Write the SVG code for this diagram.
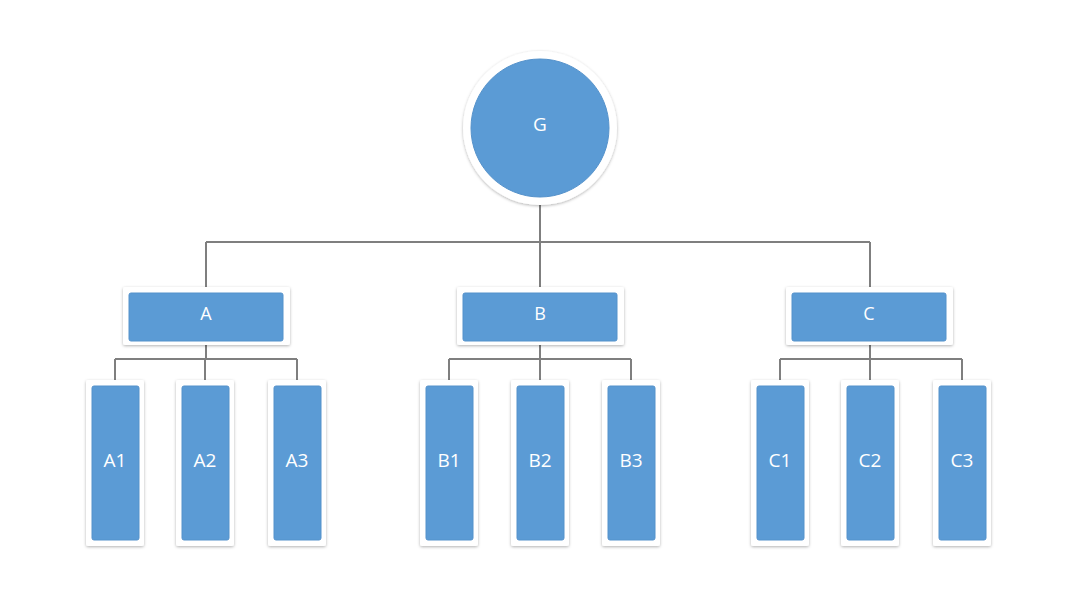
<svg xmlns="http://www.w3.org/2000/svg" width="1080" height="608" viewBox="0 0 1080 608">
<defs>
<filter id="sh" x="-20%" y="-20%" width="140%" height="140%">
<feDropShadow dx="0" dy="1" stdDeviation="1.5" flood-color="#000" flood-opacity="0.3"/>
</filter>
</defs>
<style>
.frame{fill:#fff;filter:url(#sh)}
.fill{fill:#5b9bd5;stroke:#5592cb;stroke-width:1}
.lbl{font-family:"Open Sans","Liberation Sans",sans-serif;fill:#fff;text-anchor:middle;dominant-baseline:central}
.l1{font-size:18px}
.l2{font-size:19px}
.conn{fill:none;stroke:#7f7f7f;stroke-width:2}
</style>
<rect width="1080" height="608" fill="#fff"/>
<g id="connectors" class="conn">
<path d="M540,205 V242 M206,242 H870 M206,242 V287 M540,242 V287 M870,242 V287"/>
<path d="M206,345 V359 M115,359 H297 M115,359 V380 M205,359 V380 M297,359 V380"/>
<path d="M540,345 V359 M449,359 H631 M449,359 V380 M540,359 V380 M631,359 V380"/>
<path d="M870,345 V359 M780,359 H962 M780,359 V380 M870,359 V380 M962,359 V380"/>
</g>
<g id="G">
<circle class="frame" cx="540" cy="128" r="77"/>
<circle class="fill" cx="540" cy="128" r="69"/>
<text class="lbl l2" x="540" y="124">G</text>
</g>
<g id="A">
<rect class="frame" x="123" y="287" width="167" height="58" rx="2"/>
<rect class="fill" x="129" y="293" width="154" height="48" rx="2"/>
<text class="lbl l1" x="206" y="313">A</text>
</g>
<g id="B">
<rect class="frame" x="457" y="287" width="167" height="58" rx="2"/>
<rect class="fill" x="463" y="293" width="154" height="48" rx="2"/>
<text class="lbl l1" x="540" y="313">B</text>
</g>
<g id="C">
<rect class="frame" x="786" y="287" width="167" height="58" rx="2"/>
<rect class="fill" x="792" y="293" width="154" height="48" rx="2"/>
<text class="lbl l1" x="869" y="313">C</text>
</g>
<g id="A1">
<rect class="frame" x="86" y="380" width="58" height="166" rx="2"/>
<rect class="fill" x="92" y="386" width="47" height="154" rx="2"/>
<text class="lbl l2" x="115" y="460">A1</text>
</g>
<g id="A2">
<rect class="frame" x="176" y="380" width="58" height="166" rx="2"/>
<rect class="fill" x="182" y="386" width="47" height="154" rx="2"/>
<text class="lbl l2" x="205" y="460">A2</text>
</g>
<g id="A3">
<rect class="frame" x="268" y="380" width="58" height="166" rx="2"/>
<rect class="fill" x="274" y="386" width="47" height="154" rx="2"/>
<text class="lbl l2" x="297" y="460">A3</text>
</g>
<g id="B1">
<rect class="frame" x="420" y="380" width="58" height="166" rx="2"/>
<rect class="fill" x="426" y="386" width="47" height="154" rx="2"/>
<text class="lbl l2" x="449" y="460">B1</text>
</g>
<g id="B2">
<rect class="frame" x="511" y="380" width="58" height="166" rx="2"/>
<rect class="fill" x="517" y="386" width="47" height="154" rx="2"/>
<text class="lbl l2" x="540" y="460">B2</text>
</g>
<g id="B3">
<rect class="frame" x="602" y="380" width="58" height="166" rx="2"/>
<rect class="fill" x="608" y="386" width="47" height="154" rx="2"/>
<text class="lbl l2" x="631" y="460">B3</text>
</g>
<g id="C1">
<rect class="frame" x="751" y="380" width="58" height="166" rx="2"/>
<rect class="fill" x="757" y="386" width="47" height="154" rx="2"/>
<text class="lbl l2" x="780" y="460">C1</text>
</g>
<g id="C2">
<rect class="frame" x="841" y="380" width="58" height="166" rx="2"/>
<rect class="fill" x="847" y="386" width="47" height="154" rx="2"/>
<text class="lbl l2" x="870" y="460">C2</text>
</g>
<g id="C3">
<rect class="frame" x="933" y="380" width="58" height="166" rx="2"/>
<rect class="fill" x="939" y="386" width="47" height="154" rx="2"/>
<text class="lbl l2" x="962" y="460">C3</text>
</g>
</svg>
